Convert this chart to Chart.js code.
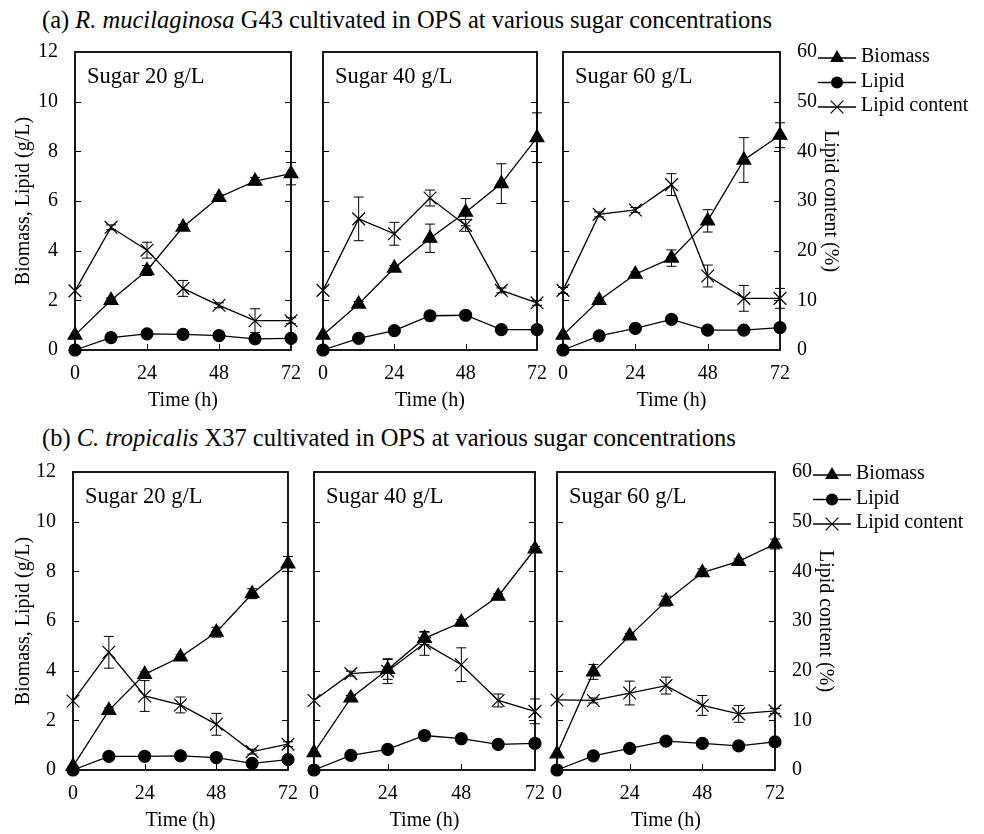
<!DOCTYPE html>
<html>
<head>
<meta charset="utf-8">
<script src="https://cdn.jsdelivr.net/npm/chart.js@4.4.0/dist/chart.umd.min.js"></script>
<style>
  body { margin: 0; background: #fff; width: 984px; height: 834px; position: relative; overflow: hidden; font-family: "Liberation Serif", serif; color: #000; }
  .rowTitle { position: absolute; left: 42px; font-size: 24.5px; line-height: 28px; white-space: nowrap; }
  canvas { position: absolute; }
</style>
</head>
<body>
<div class="rowTitle" style="top:6px">(a) <i>R. mucilaginosa</i> G43 cultivated in OPS at various sugar concentrations</div>
<div class="rowTitle" style="top:424px">(b) <i>C. tropicalis</i> X37 cultivated in OPS at various sugar concentrations</div>
<script>
// temps d'échantillonnage (h) et graduations
const hours = [0, 12, 24, 36, 48, 60, 72];
const xTicks = [0, 24, 48, 72];
const sugarLabels = ['Sugar 20 g/L', 'Sugar 40 g/L', 'Sugar 60 g/L'];
const seriesNames = ['Biomass', 'Lipid', 'Lipid content'];

// (a) R. mucilaginosa G43 : une ligne par concentration (20, 40, 60 g/L)
const rmBiomass = [
  [0.6, 2.0, 3.2, 4.95, 6.15, 6.8, 7.1],
  [0.6, 1.85, 3.3, 4.5, 5.55, 6.7, 8.55],
  [0.6, 2.0, 3.05, 3.7, 5.2, 7.65, 8.65]
];
const rmBiomassErr = [
  [0, 0.1, 0.2, 0.1, 0.1, 0.15, 0.45],
  [0, 0.1, 0.1, 0.57, 0.55, 0.8, 1.0],
  [0, 0.1, 0.1, 0.33, 0.45, 0.9, 0.5]
];
const rmLipid = [
  [0, 0.5, 0.65, 0.63, 0.58, 0.45, 0.47],
  [0, 0.47, 0.78, 1.38, 1.4, 0.82, 0.82],
  [0, 0.57, 0.87, 1.23, 0.8, 0.8, 0.9]
];
const rmContent = [
  [11.9, 24.7, 20.1, 12.4, 9.0, 5.9, 5.9],
  [12.0, 26.4, 23.4, 30.6, 25.1, 12.0, 9.5],
  [12.0, 27.3, 28.2, 33.3, 14.9, 10.4, 10.4]
];
const rmContentErr = [
  [0, 0.5, 1.6, 1.6, 0.5, 2.4, 0.6],
  [0, 4.4, 2.3, 1.6, 1.2, 0.5, 0.5],
  [0.6, 0.5, 0.5, 2.2, 2.2, 2.6, 2.0]
];

// (b) C. tropicalis X37
const ctBiomass = [
  [0.15, 2.4, 3.85, 4.55, 5.55, 7.1, 8.3],
  [0.7, 2.9, 4.05, 5.3, 5.95, 7.0, 8.9],
  [0.65, 3.95, 5.4, 6.8, 7.95, 8.4, 9.1]
];
const ctBiomassErr = [
  [0, 0.1, 0.1, 0.1, 0.2, 0.2, 0.3],
  [0, 0.1, 0.4, 0.25, 0.1, 0.1, 0.1],
  [0, 0.3, 0.1, 0.2, 0.15, 0.1, 0.2]
];
const ctLipid = [
  [0, 0.55, 0.55, 0.57, 0.5, 0.27, 0.42],
  [0, 0.59, 0.83, 1.39, 1.26, 1.03, 1.07],
  [0, 0.57, 0.87, 1.16, 1.07, 0.97, 1.13]
];
const ctContent = [
  [13.9, 23.7, 14.9, 13.1, 9.2, 3.7, 5.2],
  [14.0, 19.4, 19.9, 25.5, 21.2, 14.0, 11.8],
  [14.1, 14.0, 15.5, 17.0, 13.0, 11.3, 11.9]
];
const ctContentErr = [
  [0, 3.2, 3.1, 1.6, 2.2, 0.5, 0.5],
  [0, 0.5, 2.5, 2.4, 3.4, 1.3, 2.5],
  [0, 0.5, 2.4, 1.7, 2.0, 1.7, 0.5]
];

const FONT = '"Liberation Serif", "Times New Roman", serif';
const markers = [
  { style: 'triangle', radius: 8 },
  { style: 'circle', radius: 6 },
  { style: 'crossRot', radius: 9 }
];

function dessinerMarqueur(ctx, style, r, x, y) {
  ctx.save();
  ctx.fillStyle = '#000';
  ctx.strokeStyle = '#000';
  ctx.lineWidth = 1.2;
  ctx.beginPath();
  if (style === 'triangle') {
    ctx.moveTo(x, y - r);
    ctx.lineTo(x + r * 0.866, y + r * 0.5);
    ctx.lineTo(x - r * 0.866, y + r * 0.5);
    ctx.closePath();
    ctx.fill();
  } else if (style === 'circle') {
    ctx.arc(x, y, r, 0, Math.PI * 2);
    ctx.fill();
  } else {
    const d = r * 0.707;
    ctx.moveTo(x - d, y - d); ctx.lineTo(x + d, y + d);
    ctx.moveTo(x + d, y - d); ctx.lineTo(x - d, y + d);
    ctx.stroke();
  }
  ctx.restore();
}

// cadre, graduations internes, étiquette et barres d'erreur
const decorPanneau = {
  id: 'decorPanneau',
  beforeDatasetsDraw(chart, args, opts) {
    const { ctx, chartArea: a } = chart;
    const y = chart.scales.y, x = chart.scales.x;
    ctx.save();
    ctx.strokeStyle = '#000';
    ctx.lineWidth = 1;
    ctx.beginPath();
    for (let v = 2; v < 12; v += 2) {
      const py = Math.round(y.getPixelForValue(v)) + 0.5;
      ctx.moveTo(a.left, py); ctx.lineTo(a.left + 6, py);
      ctx.moveTo(a.right, py); ctx.lineTo(a.right - 6, py);
    }
    [24, 48].forEach(v => {
      const px = Math.round(x.getPixelForValue(v)) + 0.5;
      ctx.moveTo(px, a.bottom); ctx.lineTo(px, a.bottom - 6);
    });
    ctx.stroke();
    ctx.lineWidth = 1.8;
    ctx.strokeRect(a.left, a.top, a.right - a.left, a.bottom - a.top);
    ctx.fillStyle = '#000';
    ctx.font = '22.5px ' + FONT;
    ctx.textBaseline = 'middle';
    ctx.fillText(opts.label, a.left + 12, a.top + 25);
    ctx.restore();
  },
  afterDatasetsDraw(chart) {
    const ctx = chart.ctx;
    ctx.save();
    ctx.strokeStyle = '#000';
    ctx.lineWidth = 1;
    chart.data.datasets.forEach((ds, i) => {
      if (!ds.errors) return;
      const meta = chart.getDatasetMeta(i);
      const sc = chart.scales[ds.yAxisID];
      ds.vals.forEach((v, j) => {
        const e = ds.errors[j];
        if (!e) return;
        const px = meta.data[j].x;
        const y1 = sc.getPixelForValue(v + e), y2 = sc.getPixelForValue(v - e);
        ctx.beginPath();
        ctx.moveTo(px, y1); ctx.lineTo(px, y2);
        ctx.moveTo(px - 5, y1); ctx.lineTo(px + 5, y1);
        ctx.moveTo(px - 5, y2); ctx.lineTo(px + 5, y2);
        ctx.stroke();
      });
    });
    ctx.restore();
  },
  afterDraw(chart, args, opts) {
    if (!opts.legend) return;
    const { ctx, chartArea: a } = chart;
    ctx.save();
    ctx.font = '20px ' + FONT;
    ctx.textBaseline = 'middle';
    ctx.fillStyle = '#000';
    ctx.strokeStyle = '#000';
    seriesNames.forEach((name, k) => {
      const yy = a.top + opts.legendTop + k * 24.5;
      ctx.lineWidth = 1.3;
      ctx.beginPath();
      ctx.moveTo(a.right + 38, yy); ctx.lineTo(a.right + 76, yy);
      ctx.stroke();
      dessinerMarqueur(ctx, markers[k].style, markers[k].radius, a.right + 57, yy);
      ctx.fillText(name, a.right + 81, yy - 1);
    });
    ctx.restore();
  }
};

function sansDebord(s) {
  s.paddingTop = 0; s.paddingBottom = 0; s.paddingLeft = 0; s.paddingRight = 0;
}

function creerPanneau(row, i) {
  const [l, r] = row.xs[i];
  const first = i === 0, last = i === 2;
  const leftW = first ? l : 14;
  const rightW = last ? 62 : 14;
  const extra = last ? 984 - (r + rightW) : 0;
  const topPad = 12, bottomH = 66;

  const canvas = document.createElement('canvas');
  canvas.width = leftW + (r - l) + rightW + extra;
  canvas.height = topPad + (row.bottom - row.top) + bottomH;
  canvas.style.left = (l - leftW) + 'px';
  canvas.style.top = (row.top - topPad) + 'px';
  document.body.appendChild(canvas);

  const tickFont = { family: FONT, size: 20 };
  const ligne = (k, data, errors, axis) => ({
    label: seriesNames[k],
    data: data.map((v, j) => ({ x: hours[j], y: v })),
    vals: data,
    errors: errors,
    yAxisID: axis,
    borderColor: '#000',
    borderWidth: 1.3,
    backgroundColor: '#000',
    pointStyle: markers[k].style,
    pointRadius: markers[k].radius,
    pointBorderWidth: 1.2,
    pointBackgroundColor: '#000',
    pointBorderColor: '#000',
    tension: 0,
    fill: false,
    clip: false
  });

  new Chart(canvas, {
    type: 'line',
    data: {
      datasets: [
        ligne(0, row.biomass[i], row.biomassErr[i], 'y'),
        ligne(1, row.lipid[i], null, 'y'),
        ligne(2, row.content[i], row.contentErr[i], 'y2')
      ]
    },
    options: {
      responsive: false,
      animation: false,
      layout: { padding: { left: 0, right: extra, top: topPad, bottom: 0 } },
      plugins: {
        legend: { display: false },
        tooltip: { enabled: false },
        decorPanneau: { label: sugarLabels[i], legend: last, legendTop: row.legendTop }
      },
      scales: {
        x: {
          type: 'linear', min: 0, max: 72,
          afterBuildTicks: s => { s.ticks = xTicks.map(v => ({ value: v })); },
          ticks: { font: tickFont, color: '#000', padding: 12, maxRotation: 0, autoSkip: false },
          grid: { display: false, drawTicks: false },
          border: { display: false },
          title: { display: true, text: 'Time (h)', font: tickFont, color: '#000', padding: { top: 0, bottom: 3 } },
          afterFit: s => { s.height = bottomH; sansDebord(s); }
        },
        y: {
          position: 'left', min: 0, max: 12,
          ticks: { display: first, stepSize: 2, font: tickFont, color: '#000', padding: 17 },
          grid: { display: false, drawTicks: false },
          border: { display: false },
          title: { display: first, text: 'Biomass, Lipid (g/L)', font: tickFont, color: '#000', padding: { top: 12, bottom: 0 } },
          afterFit: s => { s.width = leftW; sansDebord(s); }
        },
        y2: {
          position: 'right', min: 0, max: 60,
          ticks: { display: last, stepSize: 10, font: tickFont, color: '#000', padding: 17 },
          grid: { display: false, drawTicks: false },
          border: { display: false },
          title: { display: last, text: 'Lipid content (%)', font: tickFont, color: '#000', padding: { top: 0, bottom: 0 } },
          afterFit: s => { s.width = rightW; sansDebord(s); }
        }
      }
    },
    plugins: [decorPanneau]
  });
}

const rows = [
  { top: 52, bottom: 350, legendTop: 6, xs: [[75, 291], [323, 537], [563, 780]],
    biomass: rmBiomass, biomassErr: rmBiomassErr, lipid: rmLipid, content: rmContent, contentErr: rmContentErr },
  { top: 472, bottom: 770, legendTop: 3, xs: [[73, 288], [314, 535], [557, 775]],
    biomass: ctBiomass, biomassErr: ctBiomassErr, lipid: ctLipid, content: ctContent, contentErr: ctContentErr }
];

rows.forEach(row => { for (let i = 0; i < 3; i++) creerPanneau(row, i); });
</script>
</body>
</html>
